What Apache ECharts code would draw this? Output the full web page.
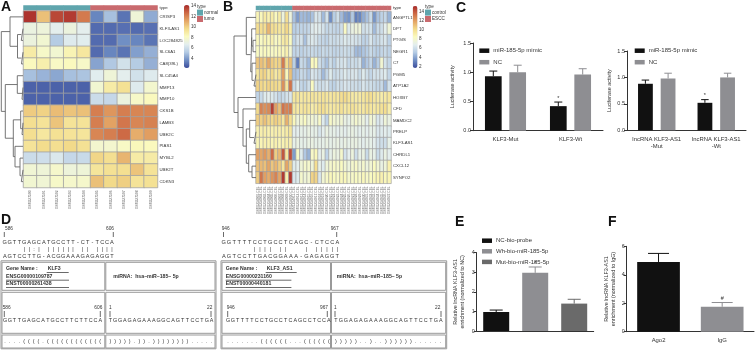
<!DOCTYPE html>
<html><head><meta charset="utf-8">
<style>html,body{margin:0;padding:0;background:#fff}#c{width:755px;height:350px}</style>
<script src="https://cdn.jsdelivr.net/npm/echarts@6/dist/echarts.min.js"></script>
</head><body><div id="c"></div>
<script>
// ---------- DATA ----------
const rowsA = ['CRISP3','KLF3-AS1','LOC284825','SLC6A1','CA8(39L)','SLC45A4','MMP13','MMP10','CKS1B','LAMB3','UBE2C','PIAS1','MYBL2','UBE2T','CDKN3'];
const colsA = ['GSM327590','GSM327591','GSM327592','GSM327593','GSM327594','GSM327595','GSM327596','GSM327597','GSM327598','GSM327599'];
const groupA = [0,0,0,0,0,1,1,1,1,1];
const matA = [
 [14,10.5,13.5,13.8,12.3,3.6,5,3.2,7.5,4.5],
 [7.2,7.4,6.8,7.3,6.8,3,3,3.1,3,3.1],
 [7.3,7.7,5.3,6.6,6.7,3,3,3.8,3.6,3.2],
 [9,8,7.7,8.6,9.2,3,3.6,3.2,4.2,4.6],
 [8.3,8.8,8.1,8.3,8,4.3,5.2,6.2,5.3,4.6],
 [5,4.7,4.4,5,5.1,6.7,7.5,6.8,6.2,6.6],
 [2.8,2.8,2.8,2.8,2.8,7.7,9,9.5,6.6,7.8],
 [2.8,2.8,2.8,2.8,2.8,6,5.8,7.3,8,8.3],
 [10.2,10,10.6,10.4,10.5,12.2,11.6,12.2,12,12],
 [9.6,9.4,10.4,9.4,9.4,12.2,11.3,12.4,12,12.1],
 [9.6,9.2,9.5,9.4,9.3,12,12.2,12.7,11,11.4],
 [9.4,9.7,9.6,9.8,9.5,7.8,7.8,8.1,8.4,8.3],
 [6,6.1,6.5,5.8,5.9,9.9,9.6,10.8,9,9],
 [7.6,7.5,7.9,7.4,7.5,9.3,9.5,9.6,10.4,9.4],
 [7.7,7.6,8,7.9,7.9,10.5,9.8,10.1,9.4,9.5]
];
const treeA = [1.3,
  [10,0,[17.5,[21.3,1,2],[21.5,3,4]]],
  [5.3,[17.3,5,[22,6,7]],[13.3,[20.7,8,[22,9,10]],[15,11,[20,12,[21.3,13,14]]]]]
];
const rowsB = ['ANGPTL1','DPT','PTGIS','NEGR1','C7','PGM5','ATP1A2','HOXB7','CFD','MAMDC2','PRELP','KLF3-AS1','CHRDL1','CXCL12','SYNPO2'];
const colsB = ['GSM1254901.CEL','GSM1254902.CEL','GSM1254903.CEL','GSM1254904.CEL','GSM1254905.CEL','GSM1254906.CEL','GSM1254907.CEL','GSM1254908.CEL','GSM1254909.CEL','GSM1254910.CEL','GSM1254911.CEL','GSM1254912.CEL','GSM1254913.CEL','GSM1254914.CEL','GSM1254915.CEL','GSM1254916.CEL','GSM1254917.CEL','GSM1254918.CEL','GSM1254919.CEL','GSM1254920.CEL','GSM1254921.CEL','GSM1254922.CEL','GSM1254923.CEL','GSM1254924.CEL','GSM1254925.CEL','GSM1254926.CEL','GSM1254927.CEL','GSM1254928.CEL','GSM1254929.CEL','GSM1254930.CEL','GSM1254931.CEL','GSM1254932.CEL','GSM1254933.CEL','GSM1254934.CEL','GSM1254935.CEL','GSM1254936.CEL','GSM1254937.CEL'];
const groupB = [0,0,0,0,0,0,0,0,0,0,1,1,1,1,1,1,1,1,1,1,1,1,1,1,1,1,1,1,1,1,1,1,1,1,1,1,1];
const matB = [
 [8.8,8.6,9.4,9,9.3,8.5,9.3,7.5,10,7.4, 4.8,3.8,4.6,4.6,4.4,4.8,6.4,6.2,4.6,6.2,3.4,5.2,6,4.6,3.8,3.6,5,3,3.2,4.2,4.8,5.8,3.6,4.8,5.4,5.6,4.4],
 [10,10,10,11.3,10,9.8,9.6,9.5,10.3,9.2, 5.2,5.4,5.5,5.5,5.6,6.5,6.8,6.6,6.2,5.6,5.8,5.6,5.5,6,8.3,6.5,7.2,7.5,7.5,6,6.2,6.2,4.6,5.8,6,6.8,7.6],
 [8.6,8.3,8.8,8.6,9,8.3,8.6,9.3,9.5,8.4, 5.4,6.1,6.2,4.8,6.2,6.5,6.3,5.8,5.6,5.4,6,5.8,6,6.2,6.6,6.3,6.4,6.2,6,5.4,5.5,6.4,5.6,5.8,6.2,6.4,5.4],
 [8.4,8.3,8.5,8.4,8.3,8.4,8.6,8.6,9,7.8, 5.5,5.6,5.4,5.6,5.7,5.8,5.7,5.5,5.8,5.6,5.8,5.5,5.6,5.8,6,5.8,5.7,4.6,4.6,4.9,5.2,5.8,5.4,5.2,5.6,5.8,5.4],
 [10.8,11,10.6,11.7,10.6,10.3,10.4,13,10,11, 5.3,3,5.8,5.5,4.6,8.5,8.4,6,5.4,4.8,6,5.3,6.2,6.2,6.4,5.6,6,5.8,6.2,4.4,5,5.6,4.4,5.2,7.8,6.2,5.6],
 [9.6,10.3,10.4,9.6,10.2,9.4,9.8,12,8.6,11, 4.8,5,5.8,5.6,5,6.4,6.2,5.8,4.6,5.6,6.6,5.8,6,6.2,6.6,6.2,6.4,6.4,5.8,6.6,6,5.6,6.2,6.2,6.4,6.6,5.6],
 [10.4,10.3,10,10.4,10.2,10.2,10,12.4,9.6,13.2, 5.8,6.6,5.6,5.4,6,8.4,6.4,6,6,6.4,5.6,5.4,6,6,6.4,6.2,6,6,5.8,6.4,6,6,5.8,5.6,5.8,4.6,6.2],
 [5.5,5.8,6.6,6.8,6.5,6.2,5.6,5.8,6.2,6.4, 9.6,9.7,9.4,9.6,9.5,9.7,9.5,9.6,9.8,9.6,9.5,9.7,9.6,10,10.2,9.8,9.4,9.3,9.4,9.6,9.8,10,9.6,9.4,9.2,9.4,9.6],
 [10.2,12.8,12.4,12.6,14.6,12,11,13.2,12.8,13, 9.6,9.4,9.5,9.7,9.6,9.2,9.4,9.8,10,9.6,9.4,9.5,9.6,9.8,9.4,9.6,9.8,9.6,9.4,9.5,9.8,9.6,9.4,9.6,9.8,10,9.2],
 [10.6,10.5,11,10.4,10.2,10.6,10.3,9.6,11.5,10, 8.6,7.5,8,8.4,7.6,7.8,7.4,8.2,6.6,5.5,8.2,7.8,7.6,7.8,7.2,7,7.6,8,7.6,7.4,6.8,7.8,7.4,6.4,6.8,7.6,7.2],
 [9,9.1,9.2,9,9,9.1,9.1,9,9.3,9.6, 6.8,6.8,7,7,7.2,7,7,6.4,6.8,7.2,7,7,6.8,7,6.8,7,7.2,7,6.8,7,6.8,7,7,6.4,6.6,6.8,6.6],
 [8.8,8.8,9,9,8.8,9,8.8,8.9,9.1,9, 7,7.2,7,7,7.2,7.2,7,7,7,7.2,7,7.1,7.2,7,7.2,7,7.2,7.2,7,6.8,7,7,6.8,6.2,6,6,7],
 [12,11.8,12.2,11.5,13.5,10.6,11.2,14,9.5,14.2, 3.8,8.2,6.6,5,4.4,8.2,8.6,6.8,7.2,5.5,7,7.4,7.2,8,6.2,6.8,7.4,6,7,7.2,5.8,7.2,7,5.8,6.6,7.2,6.8],
 [11,11.2,11,11.8,10.8,11.3,10.6,9.6,11.8,10.6, 6.6,6.8,7.6,8,8,7.6,10,7,6.6,7.6,8,8.2,8,8.4,7.8,7.4,8,8.2,7.6,8,7.4,7.8,8.4,7.8,7.2,7.6,9],
 [10.6,13.2,12,11.6,12.3,12.8,11.8,14.8,9,14.8, 6.4,6.6,8,7.6,7.8,10.4,10.4,6.4,7.8,8.2,8.6,8.4,8.2,8.6,8.6,8,8.2,8.4,8.2,8.6,8.2,8.4,8.6,8.8,9,8.6,8.8]
];
const treeB = [6,
  [18.3,0,[22.7,[23.7,1,[25,2,3]],[24,4,[26,5,6]]]],
  [10,7,[15,8,[18.3,[21.7,9,[26,10,11]],[20.7,12,[24,13,14]]]]]
];
const ticksA = [14,12,10,8,6,4];
const ticksB = [14,12,10,8,6,4,2];
const c1Cats = ['KLF3-Mut','KLF3-Wt'];
const c1Mimic = [0.93,0.42], c1NC = [1.0,0.96];
const c1MimicTop = [1.02,0.49], c1NCTop = [1.12,1.06];
const c2Cats = ['lncRNA KLF3-AS1\n-Mut','lncRNA KLF3-AS1\n-Wt'];
const c2Mimic = [0.88,0.52], c2NC = [0.98,1.0];
const c2MimicTop = [0.95,0.58], c2NCTop = [1.08,1.08];
const eNames = ['NC-bio-probe','Wh-bio-miR-185-5p','Mut-bio-miR-185-5p'];
const eVals = [0.97,2.97,1.4], eTops = [1.07,3.27,1.62];
const fCats = ['Ago2','IgG'];
const fVals = [4.9,1.75], fTops = [5.5,2.05];
const seqA1 = 'GGTTGAGCATGCCTT-CT-TCCA', matchA = '    ||:| |||||| || ||||', seqA2 = 'AGTCCTTG-ACGGAAAGAGAGGT';
const seqB1 = 'GGTTTTCCTGCCTCAGC-CTCCA', matchB = '      |||| ||   | |||||', seqB2 = 'AGTCCTTGACGGAAA-GAGAGGT';
const tarA = 'GGTTGAGCATGCCTTCTTCCA', tarB = 'GGTTTTCCTGCCTCAGCCTCCA', mir = 'TGGAGAGAAAGGCAGTTCCTGA';
const dbA1 = '....((((.((((((((((((', dbA2 = '))))).)).))))))))....'.padEnd(22,'.');
const dbB1 = '.......((((((...((((((', dbB2 = ')))))..)..))))))......';

// ---------- STYLE ----------
const F = '"Liberation Sans",Arial,sans-serif';
const heatColors = ['#3b4c9c','#6f8ec4','#b4cbe4','#e3eeee','#fafac0','#f3dc8c','#e4a565','#cd6a45','#a82a2a'];
const teal = '#5fa5ad', rose = '#c96a6e', axC = '#333', black = '#111', gray = '#8e8e92', dGray = '#6a6a6a';

// ---------- HELPERS ----------
const grid = [], xAxis = [], yAxis = [], series = [], legend = [], visualMap = [], graphic = [];
function addGrid(g, x, y) {
  grid.push(g); const i = grid.length - 1;
  xAxis.push(Object.assign({gridIndex:i}, x)); yAxis.push(Object.assign({gridIndex:i}, y));
  return i;
}
function matCells(m) { const o = []; m.forEach((r,i)=>r.forEach((v,j)=>o.push([j,i,v]))); return o; }
const hiddenAxis = {axisLine:{show:false},axisTick:{show:false},splitLine:{show:false}};
function heatPanel(o) {
  const a = addGrid({left:o.left,top:o.annTop,width:o.width,height:o.annH},
    Object.assign({type:'category',data:o.cols,axisLabel:{show:false}},hiddenAxis),
    Object.assign({type:'category',data:['type'],position:'right',axisLabel:{fontSize:4.4,margin:2,color:'#333',fontFamily:F}},hiddenAxis));
  series.push({type:'heatmap',xAxisIndex:a,yAxisIndex:a,silent:true,
    itemStyle:{borderColor:'#aaa',borderWidth:0},
    data:o.group.map((g,j)=>({value:[j,0,g],itemStyle:{color:g?rose:teal}}))});
  const h = addGrid({left:o.left,top:o.top,width:o.width,height:o.height},
    Object.assign({type:'category',data:o.cols,position:'bottom',axisLabel:{rotate:90,interval:0,fontSize:o.colFont,margin:3,color:'#666',fontFamily:F}},hiddenAxis),
    Object.assign({type:'category',data:o.rows,inverse:true,position:'right',axisLabel:{interval:0,fontSize:4.3,margin:2,color:'#333',fontFamily:F}},hiddenAxis));
  series.push({type:'heatmap',xAxisIndex:h,yAxisIndex:h,silent:true,
    itemStyle:{borderColor:'#a2a2a2',borderWidth:o.bw},data:matCells(o.mat)});
  visualMap.push({type:'continuous',seriesIndex:series.length-1,min:o.min,max:o.max,calculable:false,
    left:o.barLeft,top:o.barTop,itemWidth:o.barW,itemHeight:o.barH,text:['',''],textGap:0,padding:0,
    inRange:{color:heatColors}});
  const d = addGrid({left:o.dLeft,top:o.top,width:o.dWidth,height:o.height},
    {type:'value',min:0,max:o.dWidth,show:false},
    {type:'value',min:0,max:o.rows.length,inverse:true,show:false});
  const pts = [];
  (function walk(n){
    if (typeof n === 'number') return [o.dWidth, n + 0.5];
    const a = walk(n[1]), b = walk(n[2]);
    pts.push([a[0],a[1]],[n[0],a[1]],[n[0],b[1]],[b[0],b[1]],['-','-']);
    return [n[0],(a[1]+b[1])/2];
  })(o.tree);
  series.push({type:'line',xAxisIndex:d,yAxisIndex:d,silent:true,showSymbol:false,symbol:'none',
    lineStyle:{color:'#666',width:0.9},data:pts});
}
function valAxis(max, interval, name, nameGap) {
  return {type:'value',min:0,max,interval,name,nameLocation:'middle',nameRotate:90,nameGap,
    nameTextStyle:{fontSize:5.4,color:'#333',fontFamily:F,lineHeight:7.5},
    axisLine:{show:true,lineStyle:{color:axC,width:1}},
    axisTick:{show:true,length:3,lineStyle:{color:axC,width:1}},
    axisLabel:{fontSize:5.5,margin:2,color:'#333',fontFamily:F,formatter:v=>interval<1?v.toFixed(1):String(v)},
    splitLine:{show:false}};
}
function catAxis(data, show) {
  return {type:'category',data,
    axisLine:{show:true,lineStyle:{color:axC,width:1}},axisTick:{show:false},
    axisLabel:{show:show!==false,interval:0,fontSize:5.9,lineHeight:7.5,margin:5,color:'#333',fontFamily:F},
    splitLine:{show:false}};
}
function errSeries(i, rows, marks, capW) {
  // rows: [category, value, top, offsetPx, colour]
  series.push({type:'custom',xAxisIndex:i,yAxisIndex:i,silent:true,clip:false,z:3,
    data:rows.map(r=>r.slice(0,4)),encode:{x:0,y:[1,2]},
    renderItem(p,api){
      const c = rows[p.dataIndex][4];
      const x = api.coord([api.value(0),0])[0] + api.value(3);
      const y0 = api.coord([api.value(0),api.value(1)])[1];
      const y1 = api.coord([api.value(0),api.value(2)])[1];
      const st = {stroke:c,lineWidth:1,fill:null};
      const ch = [
        {type:'line',shape:{x1:x,y1:y0,x2:x,y2:y1},style:st},
        {type:'line',shape:{x1:x-capW/2,y1:y1,x2:x+capW/2,y2:y1},style:st}
      ];
      const m = marks[p.dataIndex];
      if (m) ch.push({type:'text',x,y:y1-1,style:{text:m,font:'5.5px '+F,fill:'#333',textAlign:'center',textVerticalAlign:'bottom'}});
      return {type:'group',children:ch};
    }});
}
function barS(i,name,data,color,w,gap,extra){
  series.push(Object.assign({type:'bar',name,xAxisIndex:i,yAxisIndex:i,data,barWidth:w,barGap:gap,silent:true,itemStyle:{color}},extra||{}));
}
function leg(names,left,top,gap,w){
  legend.push({data:names.map(n=>({name:n,icon:'rect'})),orient:'vertical',left,top,padding:0,itemWidth:w||10,itemHeight:4.5,itemGap:gap,
    selectedMode:false,textStyle:{fontSize:6,color:'#333',fontFamily:F,padding:[0,0,0,-1]}});
}
function T(x,y,text,o){
  graphic.push(Object.assign({type:'text',x,y,silent:true,style:Object.assign({text,font:'4.6px '+F,fill:'#333',textAlign:'left',textVerticalAlign:'middle'},o||{})}));
}
function R(x,y,w,h,stroke,fill,lw){
  graphic.push({type:'rect',silent:true,shape:{x,y,width:w,height:h},style:{stroke:stroke||null,fill:fill||null,lineWidth:lw||1}});
}
function L(x1,y1,x2,y2,c,lw){
  graphic.push({type:'line',silent:true,shape:{x1,y1,x2,y2},style:{stroke:c||'#444',lineWidth:lw||0.8}});
}
function seq(s,x0,step,y,font){
  [...s].forEach((ch,i)=>{ if(ch!==' ') T(x0+i*step,y,ch,{textAlign:'center',font:font||'5.6px '+F,fill:'#333'}); });
}

// ---------- PANEL A / B ----------
heatPanel({left:23.5,width:134,annTop:5.5,annH:4.6,top:11,height:176.5,cols:colsA,rows:rowsA,group:groupA,mat:matA,colFont:3.3,bw:0.8,
  min:2.3,max:14.2,barLeft:184,barTop:5,barW:5.5,barH:63,dLeft:0,dWidth:23,tree:treeA});
heatPanel({left:256,width:135,annTop:6,annH:4,top:11.7,height:171.6,cols:colsB,rows:rowsB,group:groupB,mat:matB,colFont:3.3,bw:0.7,
  min:1.7,max:15.2,barLeft:412.7,barTop:6,barW:4.8,barH:62,dLeft:228,dWidth:28,tree:treeB});
const yA = {14:6,12:16.4,10:27,8:37.6,6:48.2,4:58.8}, yB = {14:11.7,12:20.6,10:29.6,8:39,6:48.2,4:57.4,2:66.7};
ticksA.forEach(v=>T(191,yA[v],String(v)));
ticksB.forEach(v=>T(419,yB[v],String(v)));
[[197,'normal','tumo'],[425,'control','ESCC']].forEach(([x,a,b])=>{
  T(x,6.8,'type',{font:'4.6px '+F});
  R(x,9.6,6,6,null,teal); R(x,16,6,6,null,rose);
  T(x+7,12.6,a); T(x+7,19,b);
});

// ---------- PANEL C ----------
let g = addGrid({left:473,top:43,width:130,height:87.7},catAxis(c1Cats),valAxis(1.5,0.5,'Luciferase activity',17));
barS(g,'miR-185-5p mimic',c1Mimic,black,16.7,'46%'); barS(g,'NC',c1NC,gray,16.7,'46%');
errSeries(g,[[0,c1Mimic[0],c1MimicTop[0],-12.2,black],[1,c1Mimic[1],c1MimicTop[1],-12.2,black],[0,c1NC[0],c1NCTop[0],12.2,gray],[1,c1NC[1],c1NCTop[1],12.2,gray]],['','*','',''],8);
leg(['miR-185-5p mimic','NC'],479.3,47.7,5.5);
g = addGrid({left:627,top:51,width:119,height:79.3},catAxis(c2Cats),valAxis(1.5,0.5,'Luciferase activity',13));
barS(g,'miR-185-5p mimic',c2Mimic,black,14.8,'53%'); barS(g,'NC',c2NC,gray,14.8,'53%');
errSeries(g,[[0,c2Mimic[0],c2MimicTop[0],-11.35,black],[1,c2Mimic[1],c2MimicTop[1],-11.35,black],[0,c2NC[0],c2NCTop[0],11.35,gray],[1,c2NC[1],c2NCTop[1],11.35,gray]],['','*','',''],7.5);
leg(['miR-185-5p mimic','NC'],634.7,47.7,5.5);

// ---------- PANEL E ----------
g = addGrid({left:476.7,top:252.7,width:117,height:78.3},catAxis(['all'],false),valAxis(4,1,'Relative lncRNA KLF3-AS1\nenrichment (normalized to NC)',10));
[black,gray,dGray].forEach((c,k)=>barS(g,eNames[k],[eVals[k]],c,26,'50%'));
errSeries(g,[[0,eVals[0],eTops[0],-39,black],[0,eVals[1],eTops[1],0,gray],[0,eVals[2],eTops[2],39,dGray]],['','*',''],13);
leg(eNames,482,237.7,4.6);

// ---------- PANEL F ----------
g = addGrid({left:626.7,top:246.3,width:127.3,height:85.4},catAxis(fCats),valAxis(6,2,'Relative lncRNA KLF3-AS1\nenrichment (normalized to IgG)',8.5));
barS(g,'F',[{value:fVals[0],itemStyle:{color:black}},{value:fVals[1],itemStyle:{color:gray}}],black,42.7);
errSeries(g,[[0,fVals[0],fTops[0],0,black],[1,fVals[1],fTops[1],0,gray]],['','#'],21);

// ---------- PANEL D ----------
const bf = 'bold 5.2px '+F;
function dBlock(o){
  T(o.n1x,229,o.n1,{font:'4.8px '+F}); T(o.n2x,229,o.n2,{font:'4.8px '+F});
  L(o.t1,232,o.t1,237); L(o.t2,232,o.t2,237);
  seq(o.s1,o.sx,o.step,242.7); seq(o.m,o.sx,o.step,249.3); seq(o.s2,o.sx,o.step,256.7);
  R(o.x,260.8,o.w,88,'#999');
  R(o.x+1,262.3,o.div-o.x-1.5,28,'#999'); R(o.div+0.5,262.3,o.x+o.w-o.div-1.5,28,'#999');
  R(o.x+1,292.3,o.div-o.x-1.5,41,'#999'); R(o.div+0.5,292.3,o.x+o.w-o.div-1.5,41,'#999');
  R(o.x+1,335,o.div-o.x-1.5,13,'#999'); R(o.div+0.5,335,o.x+o.w-o.div-1.5,13,'#999');
  T(o.gx,268.3,'Gene Name :',{font:bf}); T(o.gx2,268.3,o.gene,{font:bf});
  L(o.gx2-1,272.5,o.gx2+21+o.extra,272.5);
  T(o.gx,276.5,o.ens,{font:bf}); L(o.gx,280.2,o.gx+63+o.extra*0.3,280.2);
  T(o.gx,283.5,o.enst,{font:bf}); L(o.gx,287.5,o.gx+63+o.extra*0.3,287.5);
  T(o.mx,276.7,'miRNA:  hsa\u2013miR\u2013185\u2013 5p',{font:bf});
  T(o.a1,308,o.n1,{font:'4.8px '+F}); T(o.a2,308,o.n2,{font:'4.8px '+F});
  L(o.at1,311,o.at1,317); L(o.at2,311,o.at2,317);
  seq(o.tar,o.tx,o.tstep,320.3,'5.4px '+F);
  T(o.b1,308,'1',{font:'4.8px '+F}); T(o.b2,308,'22',{font:'4.8px '+F});
  L(o.bt1,311,o.bt1,317); L(o.bt2,311,o.bt2,317);
  seq(mir,o.mix,o.mstep,320.3,'5.4px '+F);
  seq(o.d1,o.tx,o.tstep,341.5,'5.4px '+F); seq(o.d2,o.mix,o.mstep,341.5,'5.4px '+F);
}
dBlock({n1:'586',n2:'606',n1x:5,n2x:106,t1:4.3,t2:113.3,sx:4.8,step:4.87,s1:seqA1,m:matchA,s2:seqA2,
  x:1,w:215,div:105.3,gx:6,gx2:47.7,gene:'KLF3',extra:0,ens:'ENSG00000109787',enst:'ENST00000261438',mx:113.3,
  a1:2.7,a2:94.3,at1:4.3,at2:100.3,tar:tarA,tx:5,tstep:4.76,d1:dbA1,
  b1:109,b2:207,bt1:110,bt2:211,mix:110.4,mstep:4.82,d2:dbA2});
dBlock({n1:'946',n2:'967',n1x:221.7,n2x:330.7,t1:223.5,t2:336.7,sx:223.8,step:5.16,s1:seqB1,m:matchB,s2:seqB2,
  x:221,w:225.7,div:331,gx:225.7,gx2:266.7,gene:'KLF3_AS1',extra:9,ens:'ENSG00000231160',enst:'ENST00000440181',mx:336.7,
  a1:226.7,a2:320,at1:227.7,at2:327.3,tar:tarB,tx:228,tstep:4.8,d1:dbB1,
  b1:334,b2:435,bt1:335,bt2:441,mix:335.8,mstep:5,d2:dbB2});

// ---------- PANEL LETTERS ----------
[['A',1,7],['B',223,7],['C',456,8],['D',1,220],['E',455,222],['F',608,222]].forEach(([s,x,y])=>
  T(x,y,s,{font:'bold 14px '+F,fill:'#111'}));

const chart = echarts.init(document.getElementById('c'),null,{renderer:'canvas',width:755,height:350});
chart.setOption({animation:false,backgroundColor:'#fff',textStyle:{fontFamily:F},tooltip:{show:false},
  grid,xAxis,yAxis,series,legend,visualMap,graphic:{elements:graphic}});
</script></body></html>
